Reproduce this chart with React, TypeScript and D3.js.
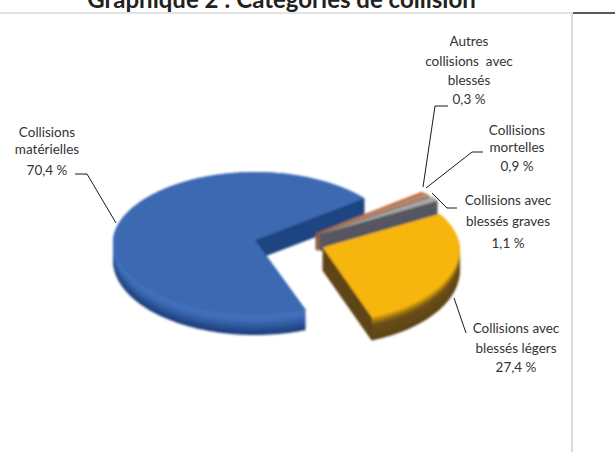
import React from "react";
import * as d3 from "d3";

const categories = ["Collisions matérielles", "Autres collisions avec blessés", "Collisions mortelles", "Collisions avec blessés graves", "Collisions avec blessés légers"];
const values = [70.4, 0.3, 0.9, 1.1, 27.4];
const valueLabels = ["70,4 %", "0,3 %", "0,9 %", "1,1 %", "27,4 %"];
const labelLines = [
  ["Collisions", "matérielles"],
  ["Autres", "collisions  avec", "blessés"],
  ["Collisions", "mortelles"],
  ["Collisions avec", "blessés graves"],
  ["Collisions avec", "blessés légers"],
];
const titleText = "Graphique 2 : Catégories de collision";

const W = 615, H = 452;
const apex = { x: 255, y: 240 };
const RX = [142, 138, 138, 138, 137];
const RY_UP = 68, RY_DOWN = 75;
const EXPLODE = [0, 76, 76, 76, 72];
const EXPLODE_Y = [0, 11, 11, 11, 22];
const DEPTH = [20, 17, 17, 17, 23];
const TOP = ["#3c69b3", "#d9743a", "#b98a72", "#a9a7a6", "#f6b60c"];
const RIM = ["#4674bd", "#c8703a", "#a0704f", "#77777c", "#e2a80f"];
const MID = ["#3d6ab4", "#a85c2c", "#8c6244", "#606066", "#6e5014"];
const BOTTOM = ["#1b3c78", "#8a4a22", "#7a5a44", "#55565e", "#5a4213"];
const WALL = ["#1f4581", "#8a5a3a", "#8c6244", "#55565e", "#5e4514"];
const TEXT = "#333333";

const LEADERS = [
  [[75, 174], [87, 174], [116, 223]],
  [[448, 106], [435, 106], [423, 187]],
  [[483, 152], [472, 152], [426, 188]],
  [[457, 208], [447, 208], [432, 193]],
  [[466, 333], [454, 298]],
];
const LABELS = [
  { x: 47, ys: [137, 154, 175] },
  { x: 469, ys: [46, 65.5, 85, 104] },
  { x: 517, ys: [135, 152, 171] },
  { x: 508, ys: [205, 226, 248] },
  { x: 516, ys: [333, 353, 372] },
];

const startA = (159 * Math.PI) / 180;
const pie = d3.pie<number>().sort(null).startAngle(startA).endAngle(startA + 2 * Math.PI);
const slices = pie(values);

function offset(i: number) {
  const s = slices[i];
  const mid = (s.startAngle + s.endAngle) / 2;
  return { x: apex.x + EXPLODE[i] * Math.sin(mid), y: apex.y - EXPLODE_Y[i] * Math.cos(mid) };
}
function rim(i: number, a: number): [number, number] {
  const o = offset(i);
  const c = Math.cos(a);
  const rx = RX[i] * (1 - 0.04 * Math.max(0, c));
  return [o.x + rx * Math.sin(a), o.y - (c > 0 ? RY_UP : RY_DOWN) * c];
}
const line = d3.line();
function face(i: number, drop: number) {
  const s = slices[i];
  const o = offset(i);
  const n = Math.max(2, Math.ceil((s.endAngle - s.startAngle) * 60));
  const pts = d3.range(n + 1).map((k) => rim(i, s.startAngle + ((s.endAngle - s.startAngle) * k) / n));
  return line([[o.x, o.y], ...pts].map(([x, y]) => [x, y + drop] as [number, number])) + "Z";
}
function wall(i: number, a: number, d: number) {
  const o = offset(i);
  const p = rim(i, a);
  return line([[o.x, o.y], p, [p[0], p[1] + d], [o.x, o.y + d]] as [number, number][]) + "Z";
}

function Slice({ i }: { i: number }) {
  const d = DEPTH[i];
  const color = d3.scaleLinear<string>().domain([0, d * 0.35, d]).range([RIM[i], MID[i], BOTTOM[i]]);
  const layers = d3.range(d, -0.01, -1);
  const s = slices[i];
  return (
    <g>
      {layers.map((k) => (
        <path key={k} d={face(i, k)} fill={color(k)} />
      ))}
      <path d={wall(i, s.endAngle, d)} fill={WALL[i]} />
      {i === 4 && <path d={wall(i, s.endAngle, d)} fill={WALL[i]} />}
      <path d={face(i, 0)} fill={TOP[i]} />
    </g>
  );
}

export default function App() {
  return (
    <svg width={W} height={H} viewBox={`0 0 ${W} ${H}`} style={{ position: "absolute", left: 0, top: 0, background: "#fff" }} fontFamily="Lato, Carlito, sans-serif">
      <defs>
        <filter id="soft" x="-10%" y="-10%" width="120%" height="120%">
          <feGaussianBlur stdDeviation="0.8" />
        </filter>
        <filter id="halo" x="-20%" y="-20%" width="140%" height="140%">
          <feGaussianBlur stdDeviation="5" />
        </filter>
      </defs>
      <text x={281.5} y={8} textAnchor="middle" fontSize={24} fontWeight={700} fill="#222">{titleText}</text>
      <line x1={0} x2={572} y1={13} y2={13} stroke="#d9d9d9" strokeWidth={1.5} />
      <line x1={573} x2={615} y1={13} y2={13} stroke="#222" strokeWidth={1.5} />
      <line x1={572} x2={572} y1={13} y2={452} stroke="#d0d0d0" strokeWidth={1.5} />

      <g filter="url(#halo)" opacity={0.07}>
        <path d={face(0, 14)} fill="#a06060" />
        <path d={face(4, 14)} fill="#a06060" />
      </g>
      <g filter="url(#soft)">
        {[0, 1, 2, 3, 4].map((i) => (
          <Slice key={categories[i]} i={i} />
        ))}
      </g>

      {LEADERS.map((l, i) => (
        <path key={i} d={line(l as [number, number][]) as string} fill="none" stroke="#1a1a1a" strokeWidth={1} />
      ))}
      {LABELS.map((lab, i) => {
        const lines = [...labelLines[i], valueLabels[i]];
        return (
          <g key={i} fontSize={13.5} fill={TEXT} textAnchor="middle">
            {lines.map((t, k) => (
              <text key={k} x={lab.x} y={lab.ys[k]} style={{ whiteSpace: "pre" }}>{t}</text>
            ))}
          </g>
        );
      })}
    </svg>
  );
}
